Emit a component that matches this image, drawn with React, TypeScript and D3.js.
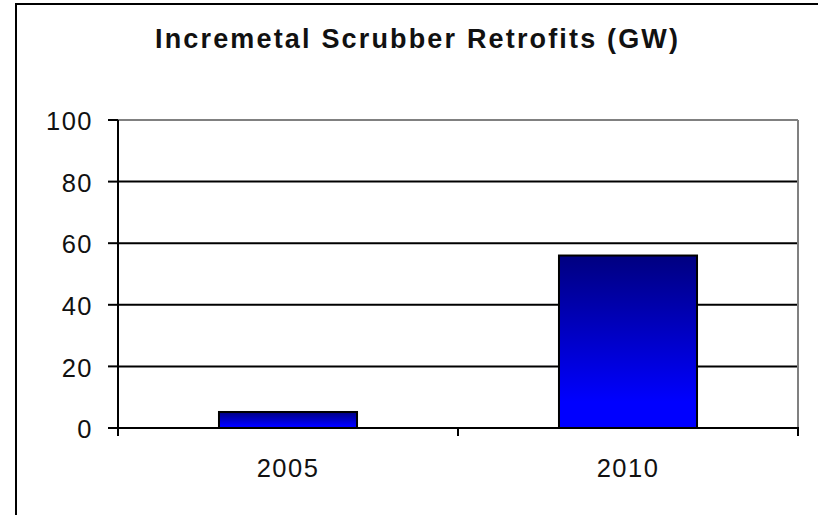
import React from "react";
import * as d3 from "d3";

const years = ["2005", "2010"];
const retrofits = [5.2, 56];
const yTicks = [0, 20, 40, 60, 80, 100];
const title = "Incremetal Scrubber Retrofits (GW)";

const W = 818;
const H = 515;
const plot = { left: 118, right: 798, top: 120, bottom: 428 };

export default function App() {
  const x = d3
    .scaleBand<string>()
    .domain(years)
    .range([plot.left, plot.right])
    .paddingInner(0.594)
    .paddingOuter(0.297);
  const xCat = d3.scaleBand<string>().domain(years).range([plot.left, plot.right]);
  const y = d3.scaleLinear().domain([0, 100]).range([plot.bottom, plot.top]);

  const font = "'Liberation Sans', Arial, sans-serif";

  return (
    <div style={{ position: "absolute", left: 0, top: 0 }}>
      <svg width={W} height={H} style={{ display: "block" }}>
        <defs>
          <linearGradient id="barFill" x1="0" y1="0" x2="0" y2="1">
            <stop offset="0" stopColor="#000080" />
            <stop offset="0.85" stopColor="#0000ff" />
            <stop offset="1" stopColor="#0000ff" />
          </linearGradient>
        </defs>
        <rect width={W} height={H} fill="#fff" />
        {/* chart area border, cut off on the right and bottom */}
        <rect x={16} y={4} width={W + 50} height={H + 50} fill="none" stroke="#000" strokeWidth={2} />

        <text
          x={416.5}
          y={47.5}
          textAnchor="middle"
          fontFamily={font}
          fontWeight="bold"
          fontSize={27}
          textLength={523}
          lengthAdjust="spacing"
          fill="#111"
        >
          {title}
        </text>

        {/* gridlines */}
        {yTicks.filter((t) => t > 0 && t < 100).map((t) => (
          <line key={t} x1={plot.left} x2={plot.right} y1={y(t)} y2={y(t)} stroke="#000" strokeWidth={2} />
        ))}
        {/* plot border top/right in gray */}
        <line x1={plot.left} x2={plot.right} y1={y(100)} y2={y(100)} stroke="#808080" strokeWidth={2} />
        <line x1={plot.right} x2={plot.right} y1={plot.top} y2={plot.bottom} stroke="#808080" strokeWidth={2} />

        {/* bars */}
        {years.map((yr, i) => (
          <rect
            key={yr}
            x={x(yr)}
            y={y(retrofits[i])}
            width={x.bandwidth()}
            height={y(0) - y(retrofits[i])}
            fill="url(#barFill)"
            stroke="#000"
            strokeWidth={2}
          />
        ))}

        {/* y axis */}
        <line x1={plot.left} x2={plot.left} y1={plot.top} y2={plot.bottom + 1} stroke="#000" strokeWidth={2} />
        {yTicks.map((t) => (
          <g key={t}>
            <line x1={plot.left - 10} x2={plot.left} y1={y(t)} y2={y(t)} stroke="#000" strokeWidth={2} />
            <text
              x={93}
              y={y(t)}
              dy="0.4em"
              textAnchor="end"
              fontFamily={font}
              fontSize={25.5}
              letterSpacing={1.5}
              fill="#111"
            >
              {t}
            </text>
          </g>
        ))}

        {/* x axis */}
        <line x1={plot.left - 1} x2={plot.right + 1} y1={plot.bottom} y2={plot.bottom} stroke="#000" strokeWidth={2} />
        {[plot.left, ...years.map((yr) => (xCat(yr) as number) + xCat.bandwidth())].map((px, i) => (
          <line key={i} x1={px} x2={px} y1={plot.bottom} y2={plot.bottom + 8} stroke="#000" strokeWidth={2} />
        ))}
        {years.map((yr) => (
          <text
            key={yr}
            x={(xCat(yr) as number) + xCat.bandwidth() / 2}
            y={476.5}
            textAnchor="middle"
            fontFamily={font}
            fontSize={25.5}
            letterSpacing={1.5}
            fill="#111"
          >
            {yr}
          </text>
        ))}
      </svg>
    </div>
  );
}
